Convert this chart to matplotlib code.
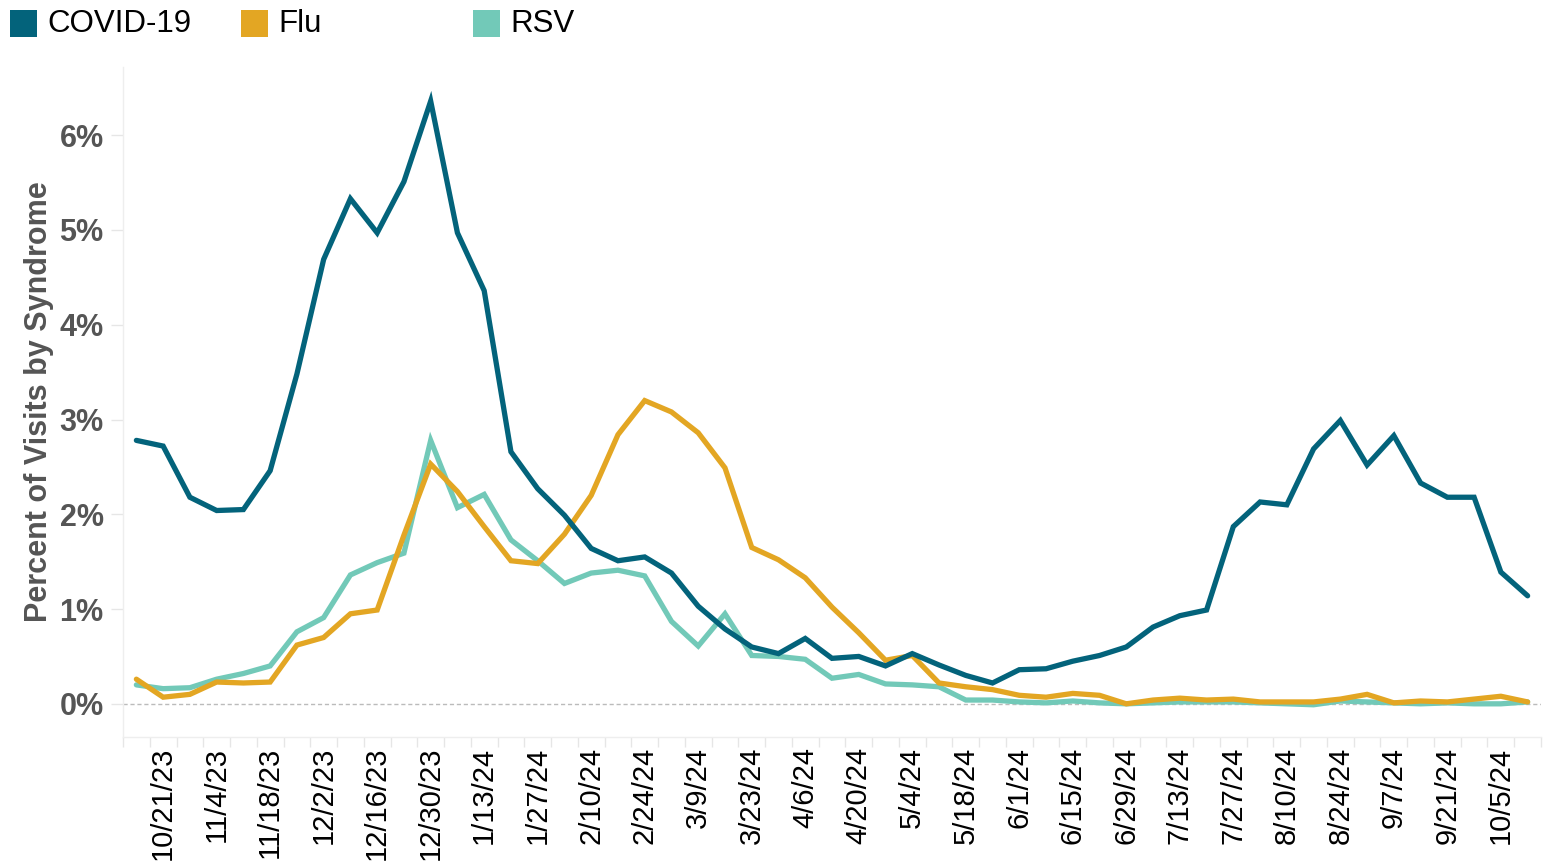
import matplotlib
matplotlib.use("Agg")
import matplotlib.pyplot as plt
from matplotlib.patches import Rectangle
from matplotlib.ticker import FixedLocator, FuncFormatter
import datetime as dt

plt.rcParams['font.family'] = ['Liberation Sans', 'DejaVu Sans']

# ---- data ----
start = dt.date(2023, 10, 14)
weeks = [start + dt.timedelta(days=7 * i) for i in range(53)]
week_labels = [f"{d.month}/{d.day}/{d.strftime('%y')}" for d in weeks]

covid = [2.78, 2.72, 2.18, 2.04, 2.05, 2.46, 3.48, 4.69, 5.33, 4.97,
         5.51, 6.36, 4.97, 4.36, 2.66, 2.27, 1.99, 1.64, 1.51, 1.55,
         1.38, 1.03, 0.79, 0.60, 0.53, 0.69, 0.48, 0.50, 0.40, 0.53,
         0.41, 0.30, 0.22, 0.36, 0.37, 0.45, 0.51, 0.60, 0.81, 0.93,
         0.99, 1.87, 2.13, 2.10, 2.69, 2.99, 2.52, 2.83, 2.33, 2.18,
         2.18, 1.39, 1.14]
flu = [0.26, 0.07, 0.10, 0.23, 0.22, 0.23, 0.62, 0.70, 0.95, 0.99,
       1.78, 2.53, 2.24, 1.87, 1.51, 1.48, 1.79, 2.20, 2.84, 3.20,
       3.08, 2.86, 2.49, 1.65, 1.52, 1.33, 1.02, 0.75, 0.46, 0.51,
       0.22, 0.18, 0.15, 0.09, 0.07, 0.11, 0.09, 0.00, 0.04, 0.06,
       0.04, 0.05, 0.02, 0.02, 0.02, 0.05, 0.10, 0.01, 0.03, 0.02,
       0.05, 0.08, 0.02]
rsv = [0.20, 0.16, 0.17, 0.26, 0.32, 0.40, 0.76, 0.91, 1.36, 1.49,
       1.59, 2.78, 2.07, 2.21, 1.73, 1.51, 1.27, 1.38, 1.41, 1.35,
       0.87, 0.61, 0.95, 0.51, 0.50, 0.47, 0.27, 0.31, 0.21, 0.20,
       0.18, 0.04, 0.04, 0.02, 0.01, 0.03, 0.01, 0.00, 0.01, 0.02,
       0.02, 0.02, 0.01, 0.00, -0.01, 0.03, 0.02, 0.01, 0.00, 0.01,
       0.00, 0.00, 0.02]

series_names = ["COVID-19", "Flu", "RSV"]
series_colors = ["#03637B", "#E3A623", "#72C9B8"]
y_ticks = [0, 1, 2, 3, 4, 5, 6]

# ---- figure ----
W, H = 1548, 863
fig = plt.figure(figsize=(W / 100, H / 100), dpi=100)
ax = fig.add_axes([123 / W, 1 - 737 / H, (1541 - 123) / W, (737 - 67) / H])

x = list(range(len(weeks)))
# draw order: RSV, Flu, COVID on top
for vals, col in [(rsv, series_colors[2]), (flu, series_colors[1]), (covid, series_colors[0])]:
    ax.plot(x, vals, color=col, lw=3.8, solid_joinstyle='miter', solid_capstyle='round', zorder=3)

ax.axhline(0, color="#BBBBBB", lw=1, ls=(0, (3, 2)), zorder=1)

ax.set_xlim(-0.5, len(weeks) - 0.5)
ax.set_ylim(-0.35, 6.72)

# y axis
ax.yaxis.set_major_locator(FixedLocator(y_ticks))
ax.yaxis.set_major_formatter(FuncFormatter(lambda v, p: f"{int(round(v))}%"))
ax.tick_params(axis='y', length=9, width=1, color="#E6E6E6", labelsize=22,
               labelcolor="#555555", pad=5)
for lab in ax.get_yticklabels():
    lab.set_fontweight('bold')

# x axis: labels every other week, tick marks at band boundaries
label_idx = list(range(1, len(weeks), 2))
ax.set_xticks(label_idx)
ax.set_xticklabels([week_labels[i] for i in label_idx], rotation=90, fontsize=21,
                   color="black")
ax.tick_params(axis='x', which='major', length=0, pad=7)
ax.set_xticks([i - 0.5 for i in range(len(weeks) + 1)], minor=True)
ax.tick_params(axis='x', which='minor', length=7, width=1, color="#E6E6E6")

ax.set_ylabel("Percent of Visits by Syndrome", fontsize=22, fontweight='bold',
              color="#555555", labelpad=4)

for s in ['top', 'right']:
    ax.spines[s].set_visible(False)
for s in ['left', 'bottom']:
    ax.spines[s].set_color("#EEEEEE")
    ax.spines[s].set_linewidth(1)

# legend (top-left)
leg_x = [10, 241, 473]
for name, col, lx in zip(series_names, series_colors, leg_x):
    fig.add_artist(Rectangle((lx / W, 1 - 37 / H), 27 / W, 27 / H,
                             transform=fig.transFigure, color=col, lw=0))
    fig.text((lx + 37) / W, 1 - 23.5 / H, name, fontsize=22.5, color="black",
             va='center', ha='left')

fig.savefig("out.png", dpi=100)
